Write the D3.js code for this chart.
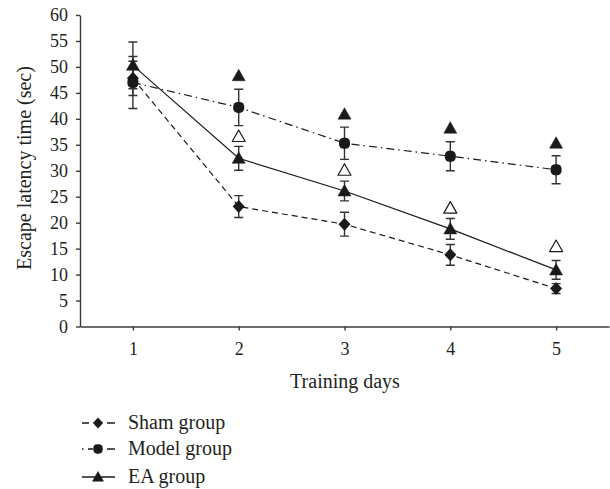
<!DOCTYPE html>
<html><head><meta charset="utf-8">
<script src="https://cdn.jsdelivr.net/npm/d3@7"></script>
<style>body{margin:0;background:#fff}</style>
</head><body>
<svg id="c" width="610" height="489"></svg>
<script>
const days = [1,2,3,4,5];
const yTicks = [0,5,10,15,20,25,30,35,40,45,50,55,60];
const shamMean = [47.8,23.1,19.7,13.8,7.3];
const shamErr  = [3.3,2.1,2.3,2.0,0.95];
const modelMean = [47.0,42.2,35.3,32.8,30.2];
const modelErr  = [5.0,3.5,3.1,2.8,2.7];
const eaMean = [50.3,32.4,26.1,18.8,10.9];
const eaErr  = [4.5,2.3,1.9,2.0,1.8];
const sigModelVsSham = [null,48.3,40.9,38.2,35.3];   // filled triangles
const sigEAVsModel  = [null,36.6,30.1,22.8,15.4];    // open triangles
const legendLabels = ["Sham group","Model group","EA group"];

const svg = d3.select("#c");
const font = "Liberation Serif, DejaVu Serif, serif";
const x = d3.scaleLinear().domain([0.5,5.5]).range([80,609]);
const y = d3.scaleLinear().domain([0,60]).range([326.5,15]);
const axisCol = "#3a3a3a";
const txtCol = "#231f20";

// axes
const gy = svg.append("g").attr("transform","translate(80,0)")
  .call(d3.axisLeft(y).tickValues(yTicks).tickSize(4).tickSizeOuter(0));
const gx = svg.append("g").attr("transform","translate(0,326.5)")
  .call(d3.axisBottom(x).tickValues(days).tickFormat(d3.format("d")).tickSize(4).tickSizeOuter(0));
[gy,gx].forEach(g=>{
  g.selectAll("path,line").attr("stroke",axisCol).attr("stroke-width",1.4);
  g.selectAll("text").attr("font-family",font).attr("font-size",18).attr("fill",txtCol);
});
gy.selectAll("text").attr("x",-12);
gx.selectAll("text").attr("y",28).attr("dy",0);

svg.append("text").attr("transform","translate(31,168) rotate(-90)")
  .attr("text-anchor","middle").attr("font-family",font).attr("font-size",20).attr("fill",txtCol)
  .text("Escape latency time (sec)");
svg.append("text").attr("x",345).attr("y",388).attr("text-anchor","middle")
  .attr("font-family",font).attr("font-size",20).attr("fill",txtCol).text("Training days");

const series = [
  {mean:shamMean, err:shamErr, dash:"6,4", legDash:"7,18,8", shape:"diamond"},
  {mean:modelMean, err:modelErr, dash:"8,4,1.5,4", legDash:"1.5,4.5,5,14,8", shape:"square"},
  {mean:eaMean, err:eaErr, dash:null, legDash:null, shape:"triangle"}
];
const col = "#1a1a1a";
function marker(g, shape, cx, cy, fill, s){
  s = s || 1;
  if(shape==="diamond"){
    g.append("path").attr("d",`M${cx},${cy-6.5*s}L${cx+6*s},${cy}L${cx},${cy+6.5*s}L${cx-6*s},${cy}Z`).attr("fill",col);
  } else if(shape==="square"){
    g.append("rect").attr("x",cx-5.5*s).attr("y",cy-5.5*s).attr("width",11*s).attr("height",11*s).attr("rx",4.5*s).attr("fill",col);
  } else {
    g.append("path").attr("d",`M${cx},${cy-6.5*s}L${cx+6.5*s},${cy+5*s}L${cx-6.5*s},${cy+5*s}Z`)
      .attr("fill",fill||col).attr("stroke",col).attr("stroke-width",fill==="#fff"?1.2:0.5)
      .attr("stroke-linejoin","round");
  }
}
const line = d3.line().x((d,i)=>x(days[i])).y(d=>y(d));
const plot = svg.append("g");
series.forEach(s=>{
  plot.append("path").attr("d",line(s.mean)).attr("fill","none").attr("stroke",col)
    .attr("stroke-width",1.2).attr("stroke-dasharray",s.dash);
});
series.forEach(s=>{
  s.mean.forEach((m,i)=>{
    const cx = x(days[i]);
    const t = y(m+s.err[i]), b = y(m-s.err[i]);
    plot.append("path").attr("d",`M${cx},${t}V${b}M${cx-4.5},${t}H${cx+4.5}M${cx-4.5},${b}H${cx+4.5}`)
      .attr("stroke","#333").attr("stroke-width",1.4).attr("fill","none");
  });
});
series.forEach(s=>{
  s.mean.forEach((m,i)=>marker(plot,s.shape,x(days[i]),y(m)));
});
sigModelVsSham.forEach((v,i)=>{ if(v!=null) marker(plot,"triangle",x(days[i]),y(v)); });
sigEAVsModel.forEach((v,i)=>{ if(v!=null) marker(plot,"triangle",x(days[i]),y(v),"#fff"); });

// legend
const lg = svg.append("g");
const rows = [423,449,477];
series.forEach((s,i)=>{
  const ly = rows[i];
  lg.append("line").attr("x1",82).attr("x2",115).attr("y1",ly).attr("y2",ly)
    .attr("stroke",col).attr("stroke-width",1.3).attr("stroke-dasharray",s.legDash);
  marker(lg,s.shape,98,ly,null,0.85);
  lg.append("text").attr("x",128).attr("y",ly+6).attr("font-family",font).attr("font-size",20)
    .attr("fill",txtCol).text(legendLabels[i]);
});
</script>
</body></html>
